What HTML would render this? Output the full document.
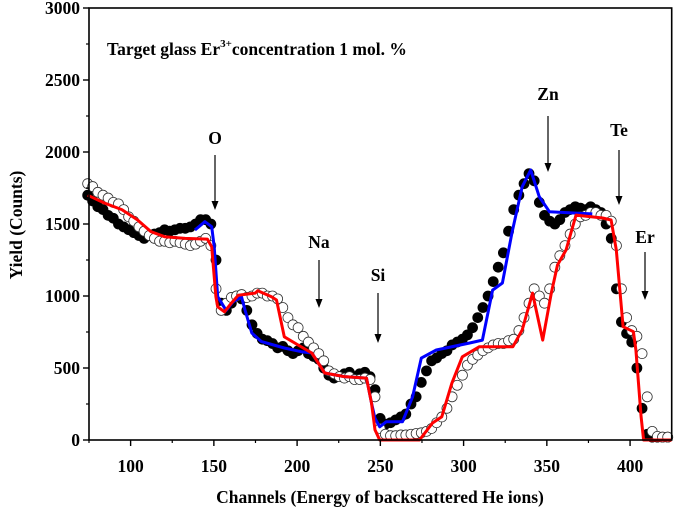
<!DOCTYPE html>
<html><head><meta charset="utf-8"><style>
body{margin:0;background:#fff;}
svg{display:block;font-family:"Liberation Serif",serif;font-weight:bold;}
</style></head><body>
<svg id="chart" width="675" height="511" viewBox="0 0 675 511" xmlns="http://www.w3.org/2000/svg">
<g id="marks"></g>
<g id="axes"></g>
<text x="107" y="55" font-size="17.5">Target glass Er<tspan dy="-8" font-size="11">3+</tspan><tspan dy="8">concentration 1 mol. %</tspan></text>
<text x="380" y="503" font-size="17.5" text-anchor="middle">Channels (Energy of backscattered He ions)</text>
<text transform="translate(22,225) rotate(-90)" font-size="17.5" text-anchor="middle">Yield (Counts)</text>
<g id="ann"></g>
</svg>
<script>
const xTicks=[100,150,200,250,300,350,400];
const yTicks=[0,500,1000,1500,2000,2500,3000];
const fillCh=[74.2,77.2,80.3,83.4,86.5,89.6,92.7,95.8,98.8,101.9,105.0,108.1,111.2,114.3,117.4,120.4,123.5,126.6,129.7,132.8,135.9,139.0,142.0,145.1,148.2,151.3,154.4,157.5,160.5,163.6,166.7,169.8,172.9,176.0,179.1,182.1,185.2,188.3,191.4,194.5,197.5,200.6,203.7,206.8,209.9,213.0,216.0,219.1,222.2,225.3,228.4,231.4,234.5,237.6,240.7,243.8,246.8,249.9,253.0,256.1,259.2,262.3,265.3,268.4,271.5,274.6,277.7,280.8,283.8,286.9,290.0,293.1,296.2,299.3,302.3,305.4,308.5,311.6,314.7,317.8,320.8,323.9,327.0,330.1,333.2,336.3,339.3,342.4,345.5,348.6,351.7,354.8,357.8,360.9,364.0,367.1,370.2,373.3,376.3,379.4,382.5,385.6,388.7,391.8,394.8,397.9,401.0,404.1,407.2,410.3,413.3,416.4,419.5,422.6];
const fillVal=[1700,1660,1620,1600,1560,1540,1500,1480,1460,1440,1420,1400,1420,1430,1440,1460,1450,1460,1470,1470,1480,1500,1530,1530,1500,1250,950,900,950,1000,980,900,800,740,700,690,670,640,650,620,600,620,640,600,580,560,500,450,430,440,460,470,440,460,470,440,350,150,110,120,140,160,180,250,300,400,480,550,570,600,620,660,680,700,730,780,850,920,1000,1100,1200,1300,1450,1600,1700,1780,1850,1800,1650,1560,1520,1500,1530,1580,1600,1620,1610,1600,1620,1600,1580,1500,1400,1050,820,740,680,500,220,40,20,20,20,20];
const openCh=fillCh;
const openVal=[1780,1760,1720,1700,1680,1650,1640,1600,1550,1520,1480,1450,1420,1400,1380,1380,1370,1380,1370,1360,1350,1360,1380,1400,1350,1050,900,950,990,1000,1010,990,1000,1020,1020,1000,1000,980,920,850,800,780,720,680,640,600,550,480,460,440,430,440,420,420,430,420,300,80,40,30,30,35,35,40,45,50,60,80,120,160,220,300,380,450,520,560,590,620,640,660,670,670,690,700,760,850,950,1050,1000,950,1050,1200,1280,1350,1430,1500,1550,1560,1580,1580,1560,1560,1520,1350,1050,850,760,720,600,300,60,25,20,20,20];
const redCh=[74.2,84.4,94.7,104.0,112.2,120.4,132.7,146.1,148.7,151.2,152.3,156.4,160.5,164.6,174.9,176.4,184.6,187.6,192.3,200.6,208.8,216.6,228.3,241.7,244.7,246.8,249.6,273.5,281.3,286.9,293.0,299.2,309.5,329.6,335.2,341.4,347.5,352.7,356.4,361.6,367.5,383.5,388.6,391.7,395.8,402.0,403.5,406.6,408.1,425];
const redVal=[1700,1645,1600,1530,1447,1412,1400,1395,1342,995,925,890,950,1005,1020,1037,995,972,717,660,604,465,440,430,257,70,0,0,118,162,395,578,648,648,764,1020,694,1020,1215,1320,1562,1542,1528,1320,787,752,625,162,0,0];
const blueCh=[138.6,144.6,148.7,150.2,152.3,157.4,161.5,166.6,168.7,172.8,178.6,192.3,202.6,208.8,216.6,228.3,241.7,244.7,246.8,249.6,253.6,263.3,269.4,274.6,283.6,303.3,311.3,317.4,323.3,329.0,335.2,340.3,345.4,351.6,367.5,377.3];
const blueVal=[1458,1516,1481,1342,995,900,960,995,903,743,683,639,613,604,465,440,430,257,150,92,127,127,300,569,625,673,694,1041,1090,1437,1759,1875,1690,1585,1576,1570];

const X0=89,X1=671.7,C0=75,C1=425,Y0=440,Y1=8,V1=3000;
function xs(c){return X0+(c-C0)*(X1-X0)/(C1-C0);}
function ys(v){return Y0-v*(Y0-Y1)/V1;}
const NS="http://www.w3.org/2000/svg";
function mk(tag,attrs,parent){const e=document.createElementNS(NS,tag);for(const k in attrs)e.setAttribute(k,attrs[k]);parent.appendChild(e);return e;}
const marks=document.getElementById('marks'),axes=document.getElementById('axes'),ann=document.getElementById('ann');

fillCh.forEach((c,i)=>{const e=mk('circle',{cx:xs(c),cy:ys(fillVal[i]),r:5,fill:'#000',stroke:'#000','stroke-width':0.8},marks);

});
openCh.forEach((c,i)=>{const e=mk('circle',{cx:xs(c),cy:ys(openVal[i]),r:5,fill:'#fff',stroke:'#333','stroke-width':0.8},marks);

});
function line(ch,val,color,name){const d=ch.map((c,i)=>(i?'L':'M')+xs(c).toFixed(1)+','+ys(val[i]).toFixed(1)).join('');
const e=mk('path',{d:d,fill:'none',stroke:color,'stroke-width':3,'stroke-linejoin':'round'},marks);

}
line(blueCh,blueVal,'#0000ff','blue-fit-line');
line(redCh,redVal,'#ff0000','red-fit-line');

const fr=mk('rect',{x:X0,y:Y1,width:X1-X0,height:Y0-Y1,fill:'none',stroke:'#000','stroke-width':1.6},axes);


xTicks.forEach(t=>{const x=xs(t);mk('line',{x1:x,x2:x,y1:Y0,y2:Y0+6,stroke:'#000','stroke-width':1.4},axes);
mk('line',{x1:xs(t-25),x2:xs(t-25),y1:Y0,y2:Y0+3,stroke:'#000','stroke-width':1.2},axes);
const tx=mk('text',{x:x,y:Y0+32,'font-size':17.5,'text-anchor':'middle'},axes);tx.textContent=t;

});
yTicks.forEach(t=>{const y=ys(t);mk('line',{x1:X0-6,x2:X0,y1:y,y2:y,stroke:'#000','stroke-width':1.4},axes);
if(t<3000)mk('line',{x1:X0-3,x2:X0,y1:ys(t+250),y2:ys(t+250),stroke:'#000','stroke-width':1.2},axes);
const tx=mk('text',{x:X0-9,y:y+6,'font-size':17.5,'text-anchor':'end'},axes);tx.textContent=t;

});

const labels=['O','Na','Si','Zn','Te','Er'];
const labX=[215,319,378,548,619,645];
const labY=[144,248,281,100,136,243];
const arT=[155,260,293,116,150,252];
const arB=[210,308,343,172,205,300];
labels.forEach((l,i)=>{const t=mk('text',{x:labX[i],y:labY[i],'font-size':17.5,'text-anchor':'middle'},ann);t.textContent=l;


mk('line',{x1:labX[i],x2:labX[i],y1:arT[i],y2:arB[i]-6,stroke:'#000','stroke-width':1.2},ann);
const a=mk('path',{d:`M${labX[i]-3.5},${arB[i]-9}L${labX[i]+3.5},${arB[i]-9}L${labX[i]},${arB[i]}Z`,fill:'#000'},ann);

});
</script>
</body></html>
